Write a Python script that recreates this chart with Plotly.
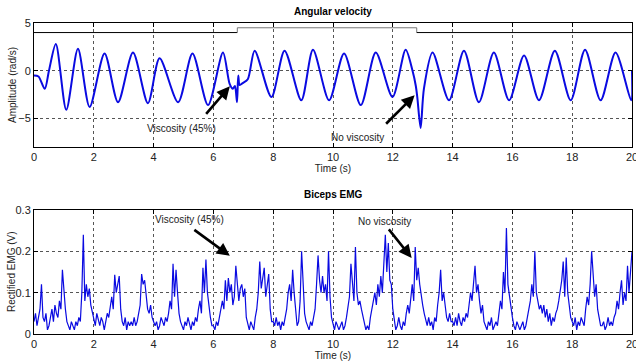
import plotly.graph_objects as go

# ---------------- data ----------------
# Angular velocity key samples (time s, rad/s)
vel_t = [0.0, 0.15, 0.36, 0.5, 0.73, 1.08, 1.47, 1.86, 2.36, 2.81, 3.31, 3.81, 4.2, 4.82,
         5.3, 5.82, 6.32, 6.54, 6.65, 6.72, 6.79, 6.83, 6.88, 6.98, 7.15, 7.38, 7.94, 8.38,
         8.94, 9.33, 9.87, 10.37, 10.93, 11.43, 11.99, 12.43, 12.66, 12.77, 12.82, 12.93,
         13.04, 13.33, 13.88, 14.38, 14.88, 15.38, 15.89, 16.39, 16.89, 17.42, 17.95, 18.43,
         18.95, 19.45, 19.97, 20.0]
vel_v = [-0.5, -0.6, -1.9, 0.0, 2.8, -4.1, 2.3, -3.8, 1.8, -3.3, 1.9, -3.4, 1.3, -3.3,
         1.8, -3.6, 1.9, -1.35, -1.9, -1.6, -3.3, -0.5, -1.5, -1.3, -0.9, 2.1, -2.75, 2.1,
         -3.1, 2.2, -3.1, 1.8, -3.6, 1.9, -2.75, 2.2, 0.0, -1.6, -2.8, -6.0,
         -1.9, 1.9, -3.1, 2.1, -3.3, 1.9, -3.1, 1.6, -3.1, 2.1, -3.1, 2.2,
         -3.1, 1.9, -3.1, 0.0]

# Viscosity condition marker (step line)
step_t = [0.0, 6.8, 12.8, 20.0]
step_v = [4.0, 4.5, 4.0, 4.0]

# Rectified biceps EMG (V), sampled every 0.05 s from 0 to 20 s
emg_rows = [
    [0.03, 0.05, 0.02, 0.04, 0.06, 0.12, 0.04, 0.03, 0.05, 0.01, 0.02, 0.04, 0.06, 0.03, 0.07, 0.05, 0.04, 0.08, 0.06, 0.155],
    [0.10, 0.06, 0.03, 0.02, 0.01, 0.03, 0.02, 0.01, 0.03, 0.02, 0.04, 0.03, 0.10, 0.24, 0.08, 0.12, 0.09, 0.11, 0.07, 0.05],
    [0.04, 0.02, 0.05, 0.03, 0.02, 0.04, 0.03, 0.01, 0.03, 0.05, 0.04, 0.07, 0.09, 0.06, 0.143, 0.10, 0.12, 0.14, 0.06, 0.03],
    [0.02, 0.04, 0.01, 0.03, 0.02, 0.03, 0.02, 0.04, 0.02, 0.03, 0.05, 0.07, 0.145, 0.12, 0.13, 0.09, 0.06, 0.05, 0.07, 0.04],
    [0.03, 0.02, 0.03, 0.01, 0.02, 0.04, 0.03, 0.02, 0.04, 0.03, 0.05, 0.08, 0.06, 0.17, 0.09, 0.155, 0.10, 0.05, 0.03, 0.02],
    [0.01, 0.03, 0.02, 0.04, 0.02, 0.01, 0.03, 0.02, 0.04, 0.03, 0.06, 0.08, 0.05, 0.16, 0.10, 0.18, 0.10, 0.06, 0.04, 0.02],
    [0.02, 0.01, 0.03, 0.02, 0.04, 0.05, 0.08, 0.06, 0.13, 0.08, 0.135, 0.10, 0.12, 0.07, 0.09, 0.165, 0.13, 0.08, 0.11, 0.12],
    [0.09, 0.11, 0.04, 0.02, 0.01, 0.03, 0.02, 0.01, 0.04, 0.06, 0.10, 0.175, 0.11, 0.13, 0.16, 0.09, 0.12, 0.145, 0.06, 0.03],
    [0.03, 0.02, 0.04, 0.02, 0.03, 0.01, 0.03, 0.02, 0.04, 0.06, 0.10, 0.12, 0.08, 0.155, 0.10, 0.05, 0.02, 0.03, 0.08, 0.20],
    [0.12, 0.05, 0.03, 0.02, 0.01, 0.03, 0.02, 0.04, 0.06, 0.12, 0.19, 0.13, 0.10, 0.14, 0.10, 0.12, 0.08, 0.20, 0.09, 0.04],
    [0.02, 0.01, 0.03, 0.02, 0.01, 0.02, 0.03, 0.01, 0.02, 0.04, 0.06, 0.09, 0.17, 0.12, 0.08, 0.21, 0.10, 0.07, 0.08, 0.06],
    [0.04, 0.02, 0.01, 0.02, 0.01, 0.04, 0.06, 0.08, 0.10, 0.07, 0.12, 0.09, 0.14, 0.10, 0.18, 0.24, 0.15, 0.22, 0.13, 0.12],
    [0.06, 0.03, 0.01, 0.02, 0.04, 0.02, 0.01, 0.03, 0.02, 0.05, 0.07, 0.05, 0.09, 0.12, 0.08, 0.21, 0.13, 0.16, 0.12, 0.09],
    [0.07, 0.05, 0.03, 0.02, 0.04, 0.02, 0.03, 0.01, 0.04, 0.03, 0.07, 0.10, 0.155, 0.08, 0.10, 0.06, 0.04, 0.03, 0.05, 0.03],
    [0.03, 0.02, 0.04, 0.02, 0.05, 0.03, 0.02, 0.04, 0.03, 0.05, 0.04, 0.07, 0.10, 0.08, 0.12, 0.165, 0.10, 0.12, 0.08, 0.05],
    [0.07, 0.03, 0.02, 0.01, 0.03, 0.02, 0.04, 0.01, 0.02, 0.03, 0.02, 0.05, 0.08, 0.06, 0.15, 0.10, 0.256, 0.12, 0.09, 0.06],
    [0.04, 0.02, 0.01, 0.03, 0.02, 0.01, 0.02, 0.03, 0.01, 0.02, 0.04, 0.06, 0.08, 0.12, 0.09, 0.20, 0.10, 0.08, 0.06, 0.07],
    [0.05, 0.07, 0.04, 0.06, 0.03, 0.05, 0.02, 0.04, 0.03, 0.05, 0.06, 0.08, 0.10, 0.13, 0.175, 0.09, 0.185, 0.10, 0.07, 0.04],
    [0.03, 0.02, 0.04, 0.01, 0.03, 0.02, 0.04, 0.03, 0.02, 0.06, 0.09, 0.07, 0.12, 0.20, 0.13, 0.09, 0.12, 0.06, 0.04, 0.02],
    [0.02, 0.03, 0.01, 0.02, 0.04, 0.02, 0.03, 0.02, 0.04, 0.05, 0.08, 0.06, 0.10, 0.13, 0.07, 0.10, 0.08, 0.165, 0.10, 0.15],
]
emg_last = 0.20
emg_v = [v for row in emg_rows for v in row] + [emg_last]
emg_t = [i * 0.05 for i in range(len(emg_v))]

x_ticks = [0, 2, 4, 6, 8, 10, 12, 14, 16, 18, 20]
vel_ticks = [-5, 0, 5]
emg_ticks = [0, 0.1, 0.2, 0.3]
emg_tick_text = ["0", "0.1", "0.2", "0.3"]

# ---------------- figure ----------------
BLUE = "rgb(10,10,225)"
FONT = "Liberation Sans, Arial, sans-serif"
TXT = "#222222"

fig = go.Figure()
fig.add_trace(go.Scatter(x=vel_t, y=vel_v, mode="lines", line=dict(color=BLUE, width=2, shape="spline", smoothing=0.8),
                         xaxis="x", yaxis="y", hoverinfo="skip"))
fig.add_trace(go.Scatter(x=step_t[:2], y=[step_v[0], step_v[0]], mode="lines", line=dict(color="black", width=1),
                         xaxis="x", yaxis="y"))
fig.add_trace(go.Scatter(x=[step_t[1], step_t[1], step_t[2], step_t[2]], y=[step_v[0], step_v[1], step_v[1], step_v[2]],
                         mode="lines", line=dict(color="#777777", width=1), xaxis="x", yaxis="y"))
fig.add_trace(go.Scatter(x=step_t[2:], y=step_v[2:], mode="lines", line=dict(color="black", width=1),
                         xaxis="x", yaxis="y"))
fig.add_trace(go.Scatter(x=emg_t, y=emg_v, mode="lines", line=dict(color=BLUE, width=1.2),
                         xaxis="x2", yaxis="y2", hoverinfo="skip"))

axis_common = dict(showline=True, linecolor="black", linewidth=1, mirror="ticks", ticks="inside", ticklen=4,
                   tickcolor="black", showgrid=True, gridcolor="#555555", griddash="dot", gridwidth=1,
                   zeroline=False, automargin=False, ticklabeloverflow="allow",
                   tickfont=dict(family=FONT, size=11, color=TXT))

fig.update_layout(
    width=636, height=361,
    margin=dict(l=34, r=4, t=23, b=27),
    paper_bgcolor="white", plot_bgcolor="white",
    showlegend=False,
    font=dict(family=FONT, size=10, color=TXT),
    xaxis=dict(domain=[0, 1], range=[0, 20], tickvals=x_ticks, anchor="y",
               title=dict(text="Time (s)", font=dict(size=10), standoff=2), **axis_common),
    yaxis=dict(domain=[0.601, 1], range=[-8, 5], tickvals=vel_ticks, anchor="x", **axis_common),
    xaxis2=dict(domain=[0, 1], range=[0, 20], tickvals=x_ticks, anchor="y2",
                title=dict(text="Time (s)", font=dict(size=10), standoff=2), **axis_common),
    yaxis2=dict(domain=[0, 0.399], range=[0, 0.3], tickvals=emg_ticks, ticktext=emg_tick_text, anchor="x2",
                **axis_common),
)

ann = []
# subplot titles
ann.append(dict(text="<b>Angular velocity</b>", xref="paper", yref="paper", x=0.5, y=1, yanchor="bottom",
                yshift=4, showarrow=False, font=dict(family=FONT, size=10, color="black")))
ann.append(dict(text="<b>Biceps EMG</b>", xref="paper", yref="paper", x=0.5, y=0.399, yanchor="bottom",
                yshift=8, showarrow=False, font=dict(family=FONT, size=10, color="black")))
# y-axis titles
ann.append(dict(text="Amplitude (rad/s)", xref="paper", yref="paper", x=0, xanchor="center", xshift=-22,
                y=0.8005, yanchor="middle", textangle=-90, showarrow=False,
                font=dict(family=FONT, size=10, color=TXT)))
ann.append(dict(text="Rectified EMG (V)", xref="paper", yref="paper", x=0, xanchor="center", xshift=-22,
                y=0.1995, yanchor="middle", textangle=-90, showarrow=False,
                font=dict(family=FONT, size=10, color=TXT)))
# labels
ann.append(dict(text="Viscosity (45%)", xref="x", yref="y", x=4.94, y=-6.0, showarrow=False,
                font=dict(family=FONT, size=10, color=TXT)))
ann.append(dict(text="No viscosity", xref="x", yref="y", x=10.83, y=-7.0, showarrow=False,
                font=dict(family=FONT, size=10, color=TXT)))
ann.append(dict(text="Viscosity (45%)", xref="x2", yref="y2", x=5.21, y=0.276, showarrow=False,
                font=dict(family=FONT, size=10, color=TXT)))
ann.append(dict(text="No viscosity", xref="x2", yref="y2", x=11.73, y=0.273, showarrow=False,
                font=dict(family=FONT, size=10, color=TXT)))
# arrows
arrow_style = dict(showarrow=True, text="", arrowhead=2, arrowsize=1, arrowwidth=2.6, arrowcolor="black", standoff=0)
ann.append(dict(xref="x", yref="y", x=6.55, y=-1.63, ax=-25, ay=29, **arrow_style))
ann.append(dict(xref="x", yref="y", x=12.73, y=-2.57, ax=-30, ay=30, **arrow_style))
ann.append(dict(xref="x2", yref="y2", x=6.55, y=0.189, ax=-37, ay=-27, **arrow_style))
ann.append(dict(xref="x2", yref="y2", x=12.63, y=0.184, ax=-24, ay=-30, **arrow_style))
fig.update_layout(annotations=ann)

fig.write_html("out.html", config={"displayModeBar": False},
               post_script="document.body.style.margin='0px';")
